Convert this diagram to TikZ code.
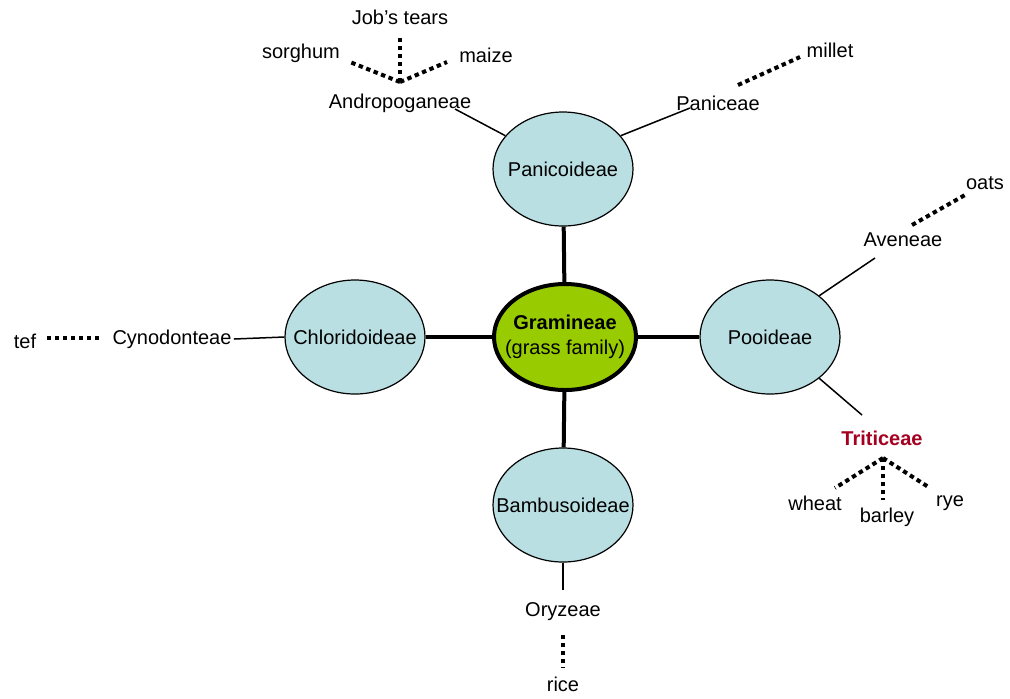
\documentclass[tikz,border=0pt]{standalone}
\usepackage{fontspec}
\setmainfont{Liberation Sans}
\usetikzlibrary{shapes.geometric}
\definecolor{subfamblue}{HTML}{B9DFE3}
\definecolor{famgreen}{HTML}{99CC00}
\definecolor{tribered}{HTML}{A50021}
\newcommand{\ctrtext}[1]{\makebox[0pt]{#1}}

\begin{document}
\begin{tikzpicture}[
  x=0.5pt, y=-0.5pt,
  font=\fontsize{10}{12.5}\selectfont,
  subfam/.style={ellipse, draw, line width=0.6pt, fill=subfamblue, minimum width=70pt, minimum height=57pt, inner sep=0pt},
  family/.style={ellipse, draw, line width=2pt, fill=famgreen, minimum width=71pt, minimum height=53pt, inner sep=0pt, align=center},
  taxon/.style={inner sep=1pt},
  stem/.style={line width=2pt},
  branch/.style={line width=0.75pt},
  crop/.style={line width=2pt, dash pattern=on 2.2pt off 1.8pt}
]
\useasboundingbox (0,0) rectangle (1010,698);

% Family in the middle
\node[family] (gram) at (565,337) {\ctrtext{\textbf{Gramineae}}\\\ctrtext{(grass family)}};

% Subfamilies
\node[subfam] (panic) at (563,169) {\ctrtext{Panicoideae}};
\node[subfam] (chlor) at (355,337) {\ctrtext{Chloridoideae}};
\node[subfam] (pooid) at (770,337) {\ctrtext{Pooideae}};
\node[subfam] (bambu) at (563,505) {\ctrtext{Bambusoideae}};

\draw[stem] (gram) -- (panic);
\draw[stem] (gram) -- (chlor);
\draw[stem] (gram) -- (pooid);
\draw[stem] (gram) -- (bambu);

% Tribes
\node[taxon] (andro) at (400,103) {Andropoganeae};
\node[taxon] (panic_t) at (718,103) {Paniceae};
\node[taxon] (avene) at (903,240) {Aveneae};
\node[taxon, text=tribered, font=\fontsize{10}{12}\selectfont\bfseries] (triti) at (882,438) {Triticeae};
\node[taxon] (cynod) at (172,339) {Cynodonteae};
\node[taxon] (oryz) at (563,612) {Oryzeae};

\coordinate (andro_end) at (455,109);
\coordinate (panic_end) at (690,108);
\coordinate (avene_end) at (875,258);
\coordinate (triti_end) at (862,415);
\coordinate (oryz_end) at (563,590);

\draw[branch] (panic.150) -- (andro_end);
\draw[branch] (panic.30) -- (panic_end);
\draw[branch] (pooid.40) -- (avene_end);
\draw[branch] (pooid.-40) -- (triti_end);
\draw[branch] (chlor.west) -- (cynod.east);
\draw[branch] (bambu.south) -- (oryz_end);

% Crops
\node[taxon] (jobs) at (400,17) {Job’s tears};
\node[taxon] (sorg) at (301,53) {sorghum};
\node[taxon] (maize) at (486,55) {maize};
\node[taxon] (millet) at (830,50) {millet};
\node[taxon] (oats) at (985,183) {oats};
\node[taxon] (wheat) at (815,503) {wheat};
\node[taxon] (barley) at (887,517) {barley};
\node[taxon] (rye) at (950,503) {rye};
\node[taxon] (tef) at (25,341) {tef};
\node[taxon] (rice) at (563,684) {rice};

\coordinate (andro_hub) at (400,82);
\coordinate (sorg_end) at (350,62);
\coordinate (maize_end) at (447,62);
\coordinate (jobs_end) at (400,38);
\coordinate (millet_a) at (738,85);
\coordinate (millet_b) at (800,57);
\coordinate (oats_a) at (912,225);
\coordinate (oats_b) at (965,195);
\coordinate (triti_hub) at (883,458);
\coordinate (wheat_end) at (835,488);
\coordinate (barley_end) at (883,500);
\coordinate (rye_end) at (930,488);
\coordinate (tef_a) at (47,338);
\coordinate (tef_b) at (102,338);
\coordinate (rice_a) at (563,635);
\coordinate (rice_b) at (563,668);

\draw[crop] (andro_hub) -- (sorg_end);
\draw[crop] (andro_hub) -- (maize_end);
\draw[crop] (andro_hub) -- (jobs_end);
\draw[crop] (millet_a) -- (millet_b);
\draw[crop] (oats_a) -- (oats_b);
\draw[crop] (triti_hub) -- (wheat_end);
\draw[crop] (triti_hub) -- (barley_end);
\draw[crop] (triti_hub) -- (rye_end);
\draw[crop] (tef_a) -- (tef_b);
\draw[crop] (rice_a) -- (rice_b);
\end{tikzpicture}
\end{document}
